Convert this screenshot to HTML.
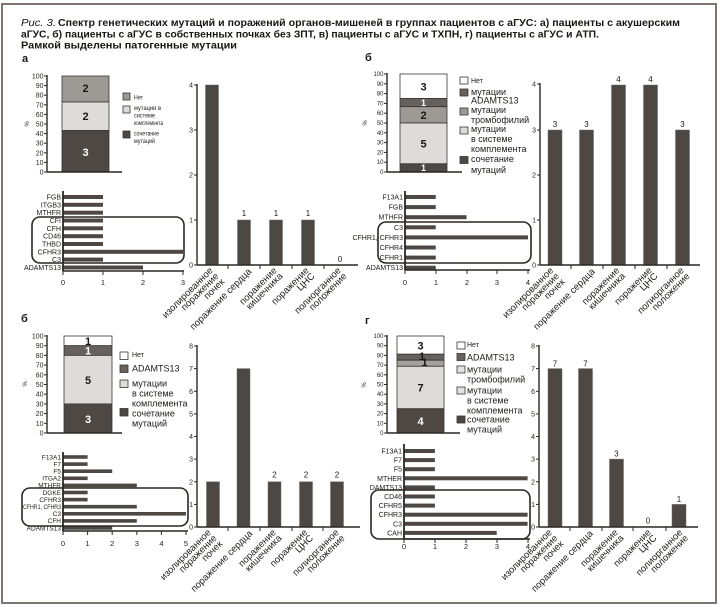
<!DOCTYPE html>
<html><head><meta charset="utf-8">
<style>
html,body{margin:0;padding:0;background:#fff;}
svg{display:block;font-family:"Liberation Sans",sans-serif;}
.tk7{font-size:7px;text-anchor:end;fill:#2a2622}
.tk6{font-size:6px;text-anchor:end;fill:#2a2622}
.lg{font-size:9px;fill:#1f1b18}
.lg7{font-size:7px;fill:#1f1b18}
.lgs{font-size:6.5px;fill:#1f1b18}
.xl{font-size:9.5px;text-anchor:end;fill:#1f1b18}
.hl{font-size:7px;text-anchor:end;fill:#1f1b18}
.hl6{font-size:6.5px;text-anchor:end;fill:#1f1b18}
.ht{font-size:7.5px;text-anchor:middle;fill:#1f1b18}
.vl{font-size:8px;text-anchor:middle;fill:#1f1b18}
.sg{font-size:11px;font-weight:bold;text-anchor:middle}
.sg9{font-size:9px;font-weight:bold;text-anchor:middle}
.pl{font-size:11px;font-weight:bold;fill:#1a1714}
.ax{stroke:#2b2723;stroke-width:1.4;fill:none}
.axt{stroke:#2b2723;stroke-width:1.8;fill:none}
.tm{stroke:#2b2723;stroke-width:1;}
.bar{fill:#4d4843;stroke:#6f6a65;stroke-width:0.5}
.hb{fill:#4d4843}
.seg{stroke:#3a3531;stroke-width:0.8}
.rr{fill:none;stroke:#2b2723;stroke-width:1.6}
</style></head>
<body>
<svg width="720" height="607" viewBox="0 0 720 607" xmlns="http://www.w3.org/2000/svg">
<rect x="0" y="0" width="720" height="607" fill="#fff"/>
<rect x="2" y="4" width="714" height="599" fill="none" stroke="#7d776f" stroke-width="2"/>

<!-- Title -->
<text x="21" y="26" font-size="10.5" font-style="italic" fill="#1a1714" textLength="35" lengthAdjust="spacingAndGlyphs">Рис. 3.</text>
<text x="58" y="26" font-size="10.5" font-weight="bold" fill="#1a1714" textLength="622" lengthAdjust="spacingAndGlyphs">Спектр генетических мутаций и поражений органов-мишеней в группах пациентов с аГУС: а) пациенты с акушерским</text>
<text x="21" y="37.5" font-size="10.5" font-weight="bold" fill="#1a1714" textLength="578" lengthAdjust="spacingAndGlyphs">аГУС, б) пациенты с аГУС в собственных почках без ЗПТ, в) пациенты с аГУС и ТХПН, г) пациенты с аГУС и АТП.</text>
<text x="21" y="48.5" font-size="10.5" font-weight="bold" fill="#1a1714" textLength="216" lengthAdjust="spacingAndGlyphs">Рамкой выделены патогенные мутации</text>

<!-- Panel labels -->
<text class="pl" x="22" y="62">а</text>
<text class="pl" x="365" y="61">б</text>
<text class="pl" x="21" y="322">б</text>
<text class="pl" x="365" y="324">г</text>

<!-- ============ PANEL A ============ -->
<rect class="seg" x="62" y="76" width="47" height="26" fill="#9d9995"/>
<rect class="seg" x="62" y="102" width="47" height="28.5" fill="#dedcda"/>
<rect class="seg" x="62" y="130.5" width="47" height="41.5" fill="#4d4843"/>
<text class="sg" x="85.5" y="92" fill="#1a1714">2</text>
<text class="sg" x="85.5" y="120" fill="#1a1714">2</text>
<text class="sg" x="85.5" y="156" fill="#fff">3</text>
<line class="ax" x1="47" y1="75" x2="47" y2="172"/>
<line class="ax" x1="47" y1="172" x2="122" y2="172"/>
<g class="tm">
<line x1="44" y1="76" x2="47" y2="76"/><line x1="44" y1="85.6" x2="47" y2="85.6"/><line x1="44" y1="95.2" x2="47" y2="95.2"/><line x1="44" y1="104.8" x2="47" y2="104.8"/><line x1="44" y1="114.4" x2="47" y2="114.4"/><line x1="44" y1="124" x2="47" y2="124"/><line x1="44" y1="133.6" x2="47" y2="133.6"/><line x1="44" y1="143.2" x2="47" y2="143.2"/><line x1="44" y1="152.8" x2="47" y2="152.8"/><line x1="44" y1="162.4" x2="47" y2="162.4"/><line x1="44" y1="172" x2="47" y2="172"/>
</g>
<text class="tk7" x="43.5" y="78.5">100</text><text class="tk7" x="43.5" y="88.1">90</text><text class="tk7" x="43.5" y="97.7">80</text><text class="tk7" x="43.5" y="107.3">70</text><text class="tk7" x="43.5" y="116.9">60</text><text class="tk7" x="43.5" y="126.5">50</text><text class="tk7" x="43.5" y="136.1">40</text><text class="tk7" x="43.5" y="145.7">30</text><text class="tk7" x="43.5" y="155.3">20</text><text class="tk7" x="43.5" y="164.9">10</text><text class="tk7" x="43.5" y="174.5">0</text>
<text x="0" y="0" font-size="6" text-anchor="middle" fill="#2a2622" transform="translate(29,124) rotate(-90)">%</text>
<!-- legend a -->
<rect class="seg" x="123" y="93" width="7" height="7" fill="#9d9995"/>
<rect class="seg" x="123" y="106" width="7" height="7" fill="#dedcda"/>
<rect class="seg" x="123" y="131" width="7" height="7" fill="#4d4843"/>
<text class="lgs" x="134" y="99.5" textLength="9" lengthAdjust="spacingAndGlyphs">Нет</text>
<text class="lgs" x="134" y="110" textLength="27" lengthAdjust="spacingAndGlyphs">мутации в</text>
<text class="lgs" x="134" y="117.5" textLength="21" lengthAdjust="spacingAndGlyphs">системе</text>
<text class="lgs" x="134" y="125" textLength="29" lengthAdjust="spacingAndGlyphs">комплемента</text>
<text class="lgs" x="134" y="135.5" textLength="25" lengthAdjust="spacingAndGlyphs">сочетание</text>
<text class="lgs" x="134" y="143" textLength="21" lengthAdjust="spacingAndGlyphs">мутаций</text>

<!-- vertical chart a -->
<rect class="bar" x="205.5" y="85" width="13" height="180"/>
<rect class="bar" x="237.5" y="220" width="13" height="45"/>
<rect class="bar" x="269.5" y="220" width="13" height="45"/>
<rect class="bar" x="301.5" y="220" width="13" height="45"/>
<line class="ax" x1="197" y1="84" x2="197" y2="265"/>
<line class="ax" x1="197" y1="265" x2="358" y2="265"/>
<g class="tm">
<line x1="194" y1="85" x2="197" y2="85"/><line x1="194" y1="130" x2="197" y2="130"/><line x1="194" y1="175" x2="197" y2="175"/><line x1="194" y1="220" x2="197" y2="220"/><line x1="194" y1="265" x2="197" y2="265"/>
<line x1="228" y1="265" x2="228" y2="269"/><line x1="260" y1="265" x2="260" y2="269"/><line x1="292" y1="265" x2="292" y2="269"/><line x1="324" y1="265" x2="324" y2="269"/>
</g>
<text class="tk7" x="193" y="87.5">4</text><text class="tk7" x="193" y="132.5">3</text><text class="tk7" x="193" y="177.5">2</text><text class="tk7" x="193" y="222.5">1</text><text class="tk7" x="193" y="267.5">0</text>
<text class="vl" x="244" y="216">1</text><text class="vl" x="276" y="216">1</text><text class="vl" x="308" y="216">1</text><text class="vl" x="340" y="262">0</text>
<text class="xl" transform="translate(213.5,271) rotate(-45)">изолированное</text>
<text class="xl" transform="translate(219.2,276.7) rotate(-45)">поражение</text>
<text class="xl" transform="translate(224.9,282.4) rotate(-45)">почек</text>
<text class="xl" transform="translate(252,272) rotate(-45)">поражение сердца</text>
<text class="xl" transform="translate(277.5,271) rotate(-45)">поражение</text>
<text class="xl" transform="translate(283.2,276.7) rotate(-45)">кишечника</text>
<text class="xl" transform="translate(309.5,271) rotate(-45)">поражение</text>
<text class="xl" transform="translate(315.2,276.7) rotate(-45)">ЦНС</text>
<text class="xl" transform="translate(341.5,271) rotate(-45)">полиорганное</text>
<text class="xl" transform="translate(347.2,276.7) rotate(-45)">положение</text>

<!-- horizontal chart a -->
<rect class="hb" x="63" y="195" width="40" height="4"/>
<rect class="hb" x="63" y="202.8" width="40" height="4"/>
<rect class="hb" x="63" y="210.7" width="40" height="4"/>
<rect class="hb" x="63" y="218.5" width="40" height="4"/>
<rect class="hb" x="63" y="226.3" width="40" height="4"/>
<rect class="hb" x="63" y="234.2" width="40" height="4"/>
<rect class="hb" x="63" y="242" width="40" height="4"/>
<rect class="hb" x="63" y="249.8" width="120" height="4"/>
<rect class="hb" x="63" y="257.6" width="40" height="4"/>
<rect class="hb" x="63" y="265.5" width="80" height="4"/>
<text class="hl" x="61" y="199.5">FGB</text>
<text class="hl" x="61" y="207.3">ITGB3</text>
<text class="hl" x="61" y="215.2">MTHFR</text>
<text class="hl" x="61" y="223">CFI</text>
<text class="hl" x="61" y="230.8">CFH</text>
<text class="hl" x="61" y="238.7">CD46</text>
<text class="hl" x="61" y="246.5">THBD</text>
<text class="hl" x="61" y="254.3">CFHR3</text>
<text class="hl" x="61" y="262.1">C3</text>
<text class="hl" x="61" y="270">ADAMTS13</text>
<line class="axt" x1="63" y1="191" x2="63" y2="271"/>
<line class="ax" x1="63" y1="271" x2="184" y2="271"/>
<g class="tm"><line x1="63" y1="271" x2="63" y2="275"/><line x1="103" y1="271" x2="103" y2="275"/><line x1="143" y1="271" x2="143" y2="275"/><line x1="183" y1="271" x2="183" y2="275"/></g>
<text class="ht" x="63" y="285">0</text><text class="ht" x="103" y="285">1</text><text class="ht" x="143" y="285">2</text><text class="ht" x="183" y="285">3</text>
<rect class="rr" x="32" y="217" width="152" height="46" rx="8"/>

<!-- ============ PANEL Б (top right) ============ -->
<rect class="seg" x="400" y="74" width="47" height="24.5" fill="#ffffff"/>
<rect class="seg" x="400" y="98.5" width="47" height="8.2" fill="#66615c"/>
<rect class="seg" x="400" y="106.7" width="47" height="16.3" fill="#9d9995"/>
<rect class="seg" x="400" y="123" width="47" height="40.8" fill="#dedcda"/>
<rect class="seg" x="400" y="163.8" width="47" height="8.2" fill="#4d4843"/>
<text class="sg" x="423.5" y="90.5" fill="#1a1714">3</text>
<text class="sg9" x="423.5" y="106" fill="#fff">1</text>
<text class="sg" x="423.5" y="119" fill="#1a1714">2</text>
<text class="sg" x="423.5" y="147.5" fill="#1a1714">5</text>
<text class="sg9" x="423.5" y="171" fill="#fff">1</text>
<line class="ax" x1="387" y1="73" x2="387" y2="172"/>
<line class="ax" x1="387" y1="172" x2="462" y2="172"/>
<g class="tm">
<line x1="384" y1="74" x2="387" y2="74"/><line x1="384" y1="83.8" x2="387" y2="83.8"/><line x1="384" y1="93.6" x2="387" y2="93.6"/><line x1="384" y1="103.4" x2="387" y2="103.4"/><line x1="384" y1="113.2" x2="387" y2="113.2"/><line x1="384" y1="123" x2="387" y2="123"/><line x1="384" y1="132.8" x2="387" y2="132.8"/><line x1="384" y1="142.6" x2="387" y2="142.6"/><line x1="384" y1="152.4" x2="387" y2="152.4"/><line x1="384" y1="162.2" x2="387" y2="162.2"/><line x1="384" y1="172" x2="387" y2="172"/>
</g>
<text class="tk6" x="383.5" y="76">100</text><text class="tk6" x="383.5" y="85.8">90</text><text class="tk6" x="383.5" y="95.6">80</text><text class="tk6" x="383.5" y="105.4">70</text><text class="tk6" x="383.5" y="115.2">60</text><text class="tk6" x="383.5" y="125">50</text><text class="tk6" x="383.5" y="134.8">40</text><text class="tk6" x="383.5" y="144.6">30</text><text class="tk6" x="383.5" y="154.4">20</text><text class="tk6" x="383.5" y="164.2">10</text><text class="tk6" x="383.5" y="174">0</text>
<text x="0" y="0" font-size="6" text-anchor="middle" fill="#2a2622" transform="translate(367,123) rotate(-90)">%</text>
<!-- legend б -->
<rect class="seg" x="460" y="77" width="8" height="7" fill="#fff"/>
<rect class="seg" x="460" y="89" width="8" height="7" fill="#66615c"/>
<rect class="seg" x="460" y="108" width="8" height="7" fill="#9d9995"/>
<rect class="seg" x="460" y="127" width="8" height="7" fill="#dedcda"/>
<rect class="seg" x="460" y="156.5" width="8" height="7" fill="#4d4843"/>
<text class="lg7" x="471" y="83">Нет</text>
<text class="lg" x="471" y="95">мутации</text>
<text class="lg" x="471" y="103.5">ADAMTS13</text>
<text class="lg" x="471" y="113">мутации</text>
<text class="lg" x="471" y="123">тромбофилий</text>
<text class="lg" x="471" y="132">мутации</text>
<text class="lg" x="471" y="142">в системе</text>
<text class="lg" x="471" y="152">комплемента</text>
<text class="lg" x="471" y="162">сочетание</text>
<text class="lg" x="471" y="173">мутаций</text>

<!-- vertical chart б -->
<rect class="bar" x="548" y="130" width="14" height="135"/>
<rect class="bar" x="579.5" y="130" width="14" height="135"/>
<rect class="bar" x="611.5" y="85" width="14" height="180"/>
<rect class="bar" x="643.5" y="85" width="14" height="180"/>
<rect class="bar" x="675.5" y="130" width="14" height="135"/>
<line class="ax" x1="540" y1="83" x2="540" y2="265"/>
<line class="ax" x1="540" y1="265" x2="700" y2="265"/>
<g class="tm">
<line x1="537" y1="84" x2="540" y2="84"/><line x1="537" y1="130" x2="540" y2="130"/><line x1="537" y1="175" x2="540" y2="175"/><line x1="537" y1="220" x2="540" y2="220"/><line x1="537" y1="265" x2="540" y2="265"/>
<line x1="571" y1="265" x2="571" y2="269"/><line x1="603" y1="265" x2="603" y2="269"/><line x1="635" y1="265" x2="635" y2="269"/><line x1="667" y1="265" x2="667" y2="269"/>
</g>
<text class="tk7" x="536" y="86.5">4</text><text class="tk7" x="536" y="132.5">3</text><text class="tk7" x="536" y="177.5">2</text><text class="tk7" x="536" y="222.5">1</text><text class="tk7" x="536" y="267.5">0</text>
<text class="vl" x="555" y="127">3</text><text class="vl" x="586.5" y="127">3</text><text class="vl" x="618.5" y="82">4</text><text class="vl" x="650.5" y="82">4</text><text class="vl" x="682.5" y="127">3</text>
<text class="xl" transform="translate(554,271) rotate(-45)">изолированное</text>
<text class="xl" transform="translate(559.7,276.7) rotate(-45)">поражение</text>
<text class="xl" transform="translate(565.4,282.4) rotate(-45)">почек</text>
<text class="xl" transform="translate(595.5,272) rotate(-45)">поражение сердца</text>
<text class="xl" transform="translate(620,271) rotate(-45)">поражение</text>
<text class="xl" transform="translate(625.7,276.7) rotate(-45)">кишечника</text>
<text class="xl" transform="translate(652.5,271) rotate(-45)">поражение</text>
<text class="xl" transform="translate(658.2,276.7) rotate(-45)">ЦНС</text>
<text class="xl" transform="translate(684.5,271) rotate(-45)">полиорганное</text>
<text class="xl" transform="translate(690.2,276.7) rotate(-45)">положение</text>

<!-- horizontal chart б -->
<rect class="hb" x="405" y="195" width="30.75" height="4"/>
<rect class="hb" x="405" y="205.1" width="30.75" height="4"/>
<rect class="hb" x="405" y="215.2" width="61.5" height="4"/>
<rect class="hb" x="405" y="225.3" width="30.75" height="4"/>
<rect class="hb" x="405" y="235.4" width="123" height="4"/>
<rect class="hb" x="405" y="245.5" width="30.75" height="4"/>
<rect class="hb" x="405" y="255.6" width="30.75" height="4"/>
<rect class="hb" x="405" y="265.7" width="30.75" height="4"/>
<text class="hl" x="403" y="199.5">F13A1</text>
<text class="hl" x="403" y="209.6">FGB</text>
<text class="hl" x="403" y="219.7">MTHFR</text>
<text class="hl" x="403" y="229.8">C3</text>
<text class="hl" x="403" y="239.9">CFHR1, CFHR3</text>
<text class="hl" x="403" y="250">CFHR4</text>
<text class="hl" x="403" y="260.1">CFHR1</text>
<text class="hl" x="403" y="270.2">ADAMTS13</text>
<line class="axt" x1="405" y1="191" x2="405" y2="270"/>
<line class="ax" x1="405" y1="270" x2="530" y2="270"/>
<g class="tm"><line x1="405" y1="270" x2="405" y2="274"/><line x1="436" y1="270" x2="436" y2="274"/><line x1="467" y1="270" x2="467" y2="274"/><line x1="497" y1="270" x2="497" y2="274"/><line x1="528" y1="270" x2="528" y2="274"/></g>
<text class="ht" x="405" y="285">0</text><text class="ht" x="436" y="285">1</text><text class="ht" x="467" y="285">2</text><text class="ht" x="497" y="285">3</text><text class="ht" x="528" y="285">4</text>
<rect class="rr" x="378" y="222" width="153" height="41" rx="8"/>

<!-- ============ PANEL В (bottom left, labelled б) ============ -->
<rect class="seg" x="64" y="336" width="48" height="9.7" fill="#fff"/>
<rect class="seg" x="64" y="345.7" width="48" height="9.7" fill="#66615c"/>
<rect class="seg" x="64" y="355.4" width="48" height="48.5" fill="#dedcda"/>
<rect class="seg" x="64" y="403.9" width="48" height="29.1" fill="#4d4843"/>
<text class="sg" x="88" y="344.8" fill="#1a1714" font-size="10">1</text>
<text class="sg" x="88" y="354.6" fill="#fff" font-size="10">1</text>
<text class="sg" x="88" y="384" fill="#1a1714">5</text>
<text class="sg" x="88" y="423" fill="#fff">3</text>
<line class="ax" x1="47" y1="335" x2="47" y2="433"/>
<line class="ax" x1="47" y1="433" x2="122" y2="433"/>
<g class="tm">
<line x1="44" y1="336" x2="47" y2="336"/><line x1="44" y1="345.7" x2="47" y2="345.7"/><line x1="44" y1="355.4" x2="47" y2="355.4"/><line x1="44" y1="365.1" x2="47" y2="365.1"/><line x1="44" y1="374.8" x2="47" y2="374.8"/><line x1="44" y1="384.5" x2="47" y2="384.5"/><line x1="44" y1="394.2" x2="47" y2="394.2"/><line x1="44" y1="403.9" x2="47" y2="403.9"/><line x1="44" y1="413.6" x2="47" y2="413.6"/><line x1="44" y1="423.3" x2="47" y2="423.3"/><line x1="44" y1="433" x2="47" y2="433"/>
</g>
<text class="tk7" x="43.5" y="338.5">100</text><text class="tk7" x="43.5" y="348.2">90</text><text class="tk7" x="43.5" y="357.9">80</text><text class="tk7" x="43.5" y="367.6">70</text><text class="tk7" x="43.5" y="377.3">60</text><text class="tk7" x="43.5" y="387">50</text><text class="tk7" x="43.5" y="396.7">40</text><text class="tk7" x="43.5" y="406.4">30</text><text class="tk7" x="43.5" y="416.1">20</text><text class="tk7" x="43.5" y="425.8">10</text><text class="tk7" x="43.5" y="435.5">0</text>
<text x="0" y="0" font-size="6" text-anchor="middle" fill="#2a2622" transform="translate(27,384) rotate(-90)">%</text>
<!-- legend в -->
<rect class="seg" x="120" y="352" width="8" height="7.5" fill="#fff"/>
<rect class="seg" x="120" y="365" width="8" height="7.5" fill="#66615c"/>
<rect class="seg" x="120" y="380" width="8" height="7.5" fill="#dedcda"/>
<rect class="seg" x="120" y="408.5" width="8" height="7.5" fill="#4d4843"/>
<text class="lg7" x="132" y="357">Нет</text>
<text class="lg" x="132" y="371.5">ADAMTS13</text>
<text class="lg" x="132" y="386.5">мутации</text>
<text class="lg" x="132" y="396.5">в системе</text>
<text class="lg" x="132" y="406.5">комплемента</text>
<text class="lg" x="132" y="416.5">сочетание</text>
<text class="lg" x="132" y="426.5">мутаций</text>

<!-- vertical chart в -->
<rect class="bar" x="206.5" y="481.8" width="13" height="45.2"/>
<rect class="bar" x="237" y="368.6" width="13" height="158.4"/>
<rect class="bar" x="268" y="481.8" width="13" height="45.2"/>
<rect class="bar" x="299.5" y="481.8" width="13" height="45.2"/>
<rect class="bar" x="330.5" y="481.8" width="13" height="45.2"/>
<line class="ax" x1="197" y1="345" x2="197" y2="527"/>
<line class="ax" x1="197" y1="527" x2="360" y2="527"/>
<g class="tm">
<line x1="194" y1="346" x2="197" y2="346"/><line x1="194" y1="368.6" x2="197" y2="368.6"/><line x1="194" y1="391.3" x2="197" y2="391.3"/><line x1="194" y1="413.9" x2="197" y2="413.9"/><line x1="194" y1="436.5" x2="197" y2="436.5"/><line x1="194" y1="459.1" x2="197" y2="459.1"/><line x1="194" y1="481.8" x2="197" y2="481.8"/><line x1="194" y1="504.4" x2="197" y2="504.4"/><line x1="194" y1="527" x2="197" y2="527"/>
<line x1="228" y1="527" x2="228" y2="531"/><line x1="260" y1="527" x2="260" y2="531"/><line x1="292" y1="527" x2="292" y2="531"/><line x1="323" y1="527" x2="323" y2="531"/>
</g>
<text class="tk7" x="193" y="348.5">8</text><text class="tk7" x="193" y="371.1">7</text><text class="tk7" x="193" y="393.8">6</text><text class="tk7" x="193" y="416.4">5</text><text class="tk7" x="193" y="439">4</text><text class="tk7" x="193" y="461.6">3</text><text class="tk7" x="193" y="484.3">2</text><text class="tk7" x="193" y="506.9">1</text><text class="tk7" x="193" y="529.5">0</text>
<text class="vl" x="274.5" y="477.5">2</text><text class="vl" x="306" y="477.5">2</text><text class="vl" x="337" y="477.5">2</text>
<text class="xl" transform="translate(211.5,533) rotate(-45)">изолированное</text>
<text class="xl" transform="translate(217.2,538.7) rotate(-45)">поражение</text>
<text class="xl" transform="translate(222.9,544.4) rotate(-45)">почек</text>
<text class="xl" transform="translate(253,534) rotate(-45)">поражение сердца</text>
<text class="xl" transform="translate(276.5,533) rotate(-45)">поражение</text>
<text class="xl" transform="translate(282.2,538.7) rotate(-45)">кишечника</text>
<text class="xl" transform="translate(308,533) rotate(-45)">поражение</text>
<text class="xl" transform="translate(313.7,538.7) rotate(-45)">ЦНС</text>
<text class="xl" transform="translate(339.5,533) rotate(-45)">полиорганное</text>
<text class="xl" transform="translate(345.2,538.7) rotate(-45)">положение</text>

<!-- horizontal chart в -->
<rect class="hb" x="63" y="455.2" width="24.6" height="3.6"/>
<rect class="hb" x="63" y="462.3" width="24.6" height="3.6"/>
<rect class="hb" x="63" y="469.4" width="49.2" height="3.6"/>
<rect class="hb" x="63" y="476.5" width="24.6" height="3.6"/>
<rect class="hb" x="63" y="483.6" width="73.8" height="3.6"/>
<rect class="hb" x="63" y="490.7" width="24.6" height="3.6"/>
<rect class="hb" x="63" y="497.8" width="24.6" height="3.6"/>
<rect class="hb" x="63" y="504.9" width="73.8" height="3.6"/>
<rect class="hb" x="63" y="512" width="123" height="3.6"/>
<rect class="hb" x="63" y="519.1" width="73.8" height="3.6"/>
<rect class="hb" x="63" y="526.2" width="49.2" height="3.6"/>
<text class="hl6" x="61" y="459.3">F13A1</text>
<text class="hl6" x="61" y="466.4">F7</text>
<text class="hl6" x="61" y="473.5">F5</text>
<text class="hl6" x="61" y="480.6">ITGA2</text>
<text class="hl6" x="61" y="487.7">MTHFR</text>
<text class="hl6" x="61" y="494.8">DGKE</text>
<text class="hl6" x="61" y="501.9">CFHR3</text>
<text class="hl6" x="61" y="509" textLength="38" lengthAdjust="spacingAndGlyphs">CFHR1, CFHR3</text>
<text class="hl6" x="61" y="516.1">C3</text>
<text class="hl6" x="61" y="523.2">CFH</text>
<text class="hl6" x="61" y="530.3">ADAMTS13</text>
<line class="axt" x1="63" y1="452" x2="63" y2="531"/>
<line class="ax" x1="63" y1="531" x2="188" y2="531"/>
<g class="tm"><line x1="63" y1="531" x2="63" y2="535"/><line x1="87.6" y1="531" x2="87.6" y2="535"/><line x1="112.2" y1="531" x2="112.2" y2="535"/><line x1="136.8" y1="531" x2="136.8" y2="535"/><line x1="161.4" y1="531" x2="161.4" y2="535"/><line x1="186" y1="531" x2="186" y2="535"/></g>
<text class="ht" x="63" y="546">0</text><text class="ht" x="87.6" y="546">1</text><text class="ht" x="112.2" y="546">2</text><text class="ht" x="136.8" y="546">3</text><text class="ht" x="161.4" y="546">4</text><text class="ht" x="186" y="546">5</text>
<rect class="rr" x="22" y="488" width="166" height="38" rx="8"/>

<!-- ============ PANEL Г ============ -->
<rect class="seg" x="397" y="336" width="47" height="18.2" fill="#fff"/>
<rect class="seg" x="397" y="354.2" width="47" height="6" fill="#66615c"/>
<rect class="seg" x="397" y="360.2" width="47" height="6.1" fill="#a5a19d"/>
<rect class="seg" x="397" y="366.3" width="47" height="42.45" fill="#dedcda"/>
<rect class="seg" x="397" y="408.75" width="47" height="24.25" fill="#4d4843"/>
<text class="sg" x="420.5" y="349.5" fill="#1a1714">3</text>
<text class="sg" x="422" y="360" fill="#1a1714" font-size="7">1</text>
<text class="sg" x="424.5" y="366" fill="#1a1714" font-size="7">1</text>
<text class="sg" x="420.5" y="391.5" fill="#1a1714">7</text>
<text class="sg" x="420.5" y="425" fill="#fff">4</text>
<line class="ax" x1="387" y1="335" x2="387" y2="433"/>
<line class="ax" x1="387" y1="433" x2="460" y2="433"/>
<g class="tm">
<line x1="384" y1="336" x2="387" y2="336"/><line x1="384" y1="345.7" x2="387" y2="345.7"/><line x1="384" y1="355.4" x2="387" y2="355.4"/><line x1="384" y1="365.1" x2="387" y2="365.1"/><line x1="384" y1="374.8" x2="387" y2="374.8"/><line x1="384" y1="384.5" x2="387" y2="384.5"/><line x1="384" y1="394.2" x2="387" y2="394.2"/><line x1="384" y1="403.9" x2="387" y2="403.9"/><line x1="384" y1="413.6" x2="387" y2="413.6"/><line x1="384" y1="423.3" x2="387" y2="423.3"/><line x1="384" y1="433" x2="387" y2="433"/>
</g>
<text class="tk6" x="383.5" y="338">100</text><text class="tk6" x="383.5" y="347.7">90</text><text class="tk6" x="383.5" y="357.4">80</text><text class="tk6" x="383.5" y="367.1">70</text><text class="tk6" x="383.5" y="376.8">60</text><text class="tk6" x="383.5" y="386.5">50</text><text class="tk6" x="383.5" y="396.2">40</text><text class="tk6" x="383.5" y="405.9">30</text><text class="tk6" x="383.5" y="415.6">20</text><text class="tk6" x="383.5" y="425.3">10</text><text class="tk6" x="383.5" y="435">0</text>
<text x="0" y="0" font-size="6" text-anchor="middle" fill="#2a2622" transform="translate(366,385) rotate(-90)">%</text>
<!-- legend г -->
<rect class="seg" x="457" y="342" width="8" height="7" fill="#fff"/>
<rect class="seg" x="457" y="353.5" width="8" height="7" fill="#66615c"/>
<rect class="seg" x="457" y="366" width="8" height="7" fill="#e4e2e0"/>
<rect class="seg" x="457" y="387" width="8" height="7" fill="#e4e2e0"/>
<rect class="seg" x="457" y="416" width="8" height="7" fill="#4d4843"/>
<text class="lg7" x="467" y="347">Нет</text>
<text class="lg" x="467" y="360.5">ADAMTS13</text>
<text class="lg" x="467" y="372.5">мутации</text>
<text class="lg" x="467" y="382.5">тромбофилий</text>
<text class="lg" x="467" y="393.5">мутации</text>
<text class="lg" x="467" y="403.5">в системе</text>
<text class="lg" x="467" y="413.5">комплемента</text>
<text class="lg" x="467" y="422.5">сочетание</text>
<text class="lg" x="467" y="432.5">мутаций</text>

<!-- vertical chart г -->
<rect class="bar" x="548" y="368.6" width="14" height="158.4"/>
<rect class="bar" x="578.5" y="368.6" width="14" height="158.4"/>
<rect class="bar" x="609.5" y="459.1" width="14" height="67.9"/>
<rect class="bar" x="672" y="504.4" width="14" height="22.6"/>
<line class="ax" x1="539" y1="345" x2="539" y2="527"/>
<line class="ax" x1="539" y1="527" x2="698" y2="527"/>
<g class="tm">
<line x1="536" y1="346" x2="539" y2="346"/><line x1="536" y1="368.6" x2="539" y2="368.6"/><line x1="536" y1="391.3" x2="539" y2="391.3"/><line x1="536" y1="413.9" x2="539" y2="413.9"/><line x1="536" y1="436.5" x2="539" y2="436.5"/><line x1="536" y1="459.1" x2="539" y2="459.1"/><line x1="536" y1="481.8" x2="539" y2="481.8"/><line x1="536" y1="504.4" x2="539" y2="504.4"/><line x1="536" y1="527" x2="539" y2="527"/>
<line x1="570" y1="527" x2="570" y2="531"/><line x1="602" y1="527" x2="602" y2="531"/><line x1="633" y1="527" x2="633" y2="531"/><line x1="666" y1="527" x2="666" y2="531"/>
</g>
<text class="tk7" x="535" y="348.5">8</text><text class="tk7" x="535" y="371.1">7</text><text class="tk7" x="535" y="393.8">6</text><text class="tk7" x="535" y="416.4">5</text><text class="tk7" x="535" y="439">4</text><text class="tk7" x="535" y="461.6">3</text><text class="tk7" x="535" y="484.3">2</text><text class="tk7" x="535" y="506.9">1</text><text class="tk7" x="535" y="529.5">0</text>
<text class="vl" x="555" y="366.5">7</text><text class="vl" x="585.5" y="366.5">7</text><text class="vl" x="616.5" y="456.5">3</text><text class="vl" x="648" y="523.5">0</text><text class="vl" x="679" y="502">1</text>
<text class="xl" transform="translate(552.5,533) rotate(-45)">изолированное</text>
<text class="xl" transform="translate(558.2,538.7) rotate(-45)">поражение</text>
<text class="xl" transform="translate(563.9,544.4) rotate(-45)">почек</text>
<text class="xl" transform="translate(593.5,534) rotate(-45)">поражение сердца</text>
<text class="xl" transform="translate(618.5,533) rotate(-45)">поражение</text>
<text class="xl" transform="translate(624.2,538.7) rotate(-45)">кишечника</text>
<text class="xl" transform="translate(651.5,533) rotate(-45)">поражение</text>
<text class="xl" transform="translate(657.2,538.7) rotate(-45)">ЦНС</text>
<text class="xl" transform="translate(683,533) rotate(-45)">полиорганное</text>
<text class="xl" transform="translate(688.7,538.7) rotate(-45)">положение</text>

<!-- horizontal chart г -->
<rect class="hb" x="404" y="449" width="30.9" height="4"/>
<rect class="hb" x="404" y="458.1" width="30.9" height="4"/>
<rect class="hb" x="404" y="467.2" width="30.9" height="4"/>
<rect class="hb" x="404" y="476.3" width="123.6" height="4"/>
<rect class="hb" x="404" y="485.4" width="30.9" height="4"/>
<rect class="hb" x="404" y="494.5" width="30.9" height="4"/>
<rect class="hb" x="404" y="503.6" width="30.9" height="4"/>
<rect class="hb" x="404" y="512.7" width="123.6" height="4"/>
<rect class="hb" x="404" y="521.8" width="123.6" height="4"/>
<rect class="hb" x="404" y="530.9" width="92.7" height="4"/>
<text class="hl" x="402" y="453.5">F13A1</text>
<text class="hl" x="402" y="462.6">F7</text>
<text class="hl" x="402" y="471.7">F5</text>
<text class="hl" x="402" y="480.8">MTHER</text>
<text class="hl" x="402" y="489.9">DAMTS13</text>
<text class="hl" x="402" y="499">CD46</text>
<text class="hl" x="402" y="508.1">CFHR5</text>
<text class="hl" x="402" y="517.2">CFHR3</text>
<text class="hl" x="402" y="526.3">C3</text>
<text class="hl" x="402" y="535.4">CAH</text>
<line class="axt" x1="404" y1="444" x2="404" y2="539"/>
<line class="ax" x1="404" y1="539" x2="530" y2="539"/>
<g class="tm"><line x1="404" y1="539" x2="404" y2="543"/><line x1="435" y1="539" x2="435" y2="543"/><line x1="466" y1="539" x2="466" y2="543"/><line x1="497" y1="539" x2="497" y2="543"/><line x1="528" y1="539" x2="528" y2="543"/></g>
<text class="ht" x="404" y="549">0</text><text class="ht" x="435" y="549">1</text><text class="ht" x="466" y="549">2</text><text class="ht" x="497" y="549">3</text><text class="ht" x="528" y="549">4</text>
<rect class="rr" x="371" y="490" width="159" height="49" rx="8"/>
</svg>
</body></html>
